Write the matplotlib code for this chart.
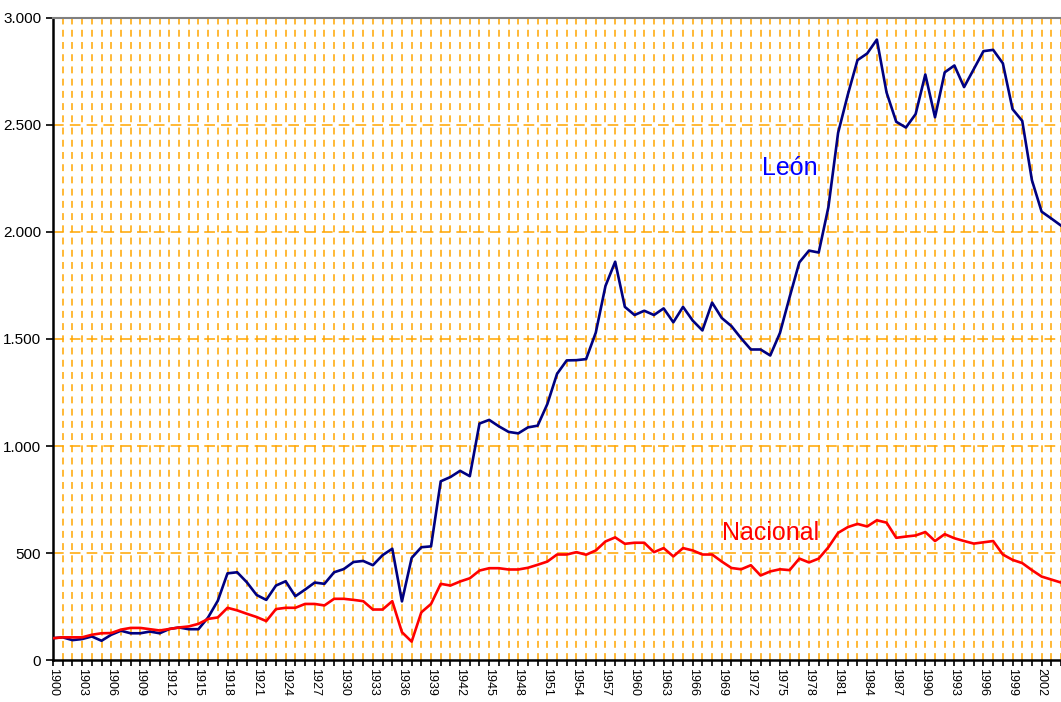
import matplotlib
matplotlib.use("Agg")
import matplotlib.pyplot as plt
from matplotlib.ticker import FuncFormatter

plt.rcParams['font.family'] = ['Liberation Sans', 'DejaVu Sans']

# Años 1900-2004
anios = list(range(1900, 2005))

# Serie León
leon = [102, 106, 93, 98, 110, 90, 118, 137, 125, 125,
        133, 125, 145, 152, 144, 144, 199, 277, 405, 410,
        363, 304, 281, 348, 368, 298, 329, 362, 356, 410,
        425, 458, 463, 443, 490, 520, 274, 477, 527, 531,
        835, 855, 884, 859, 1105, 1122, 1092, 1066, 1059, 1087,
        1095, 1196, 1337, 1400, 1401, 1406, 1530, 1748, 1861, 1650,
        1612, 1632, 1612, 1643, 1578, 1650, 1586, 1540, 1670, 1598,
        1560, 1503, 1451, 1451, 1423, 1528, 1696, 1858, 1913, 1904,
        2116, 2463, 2641, 2803, 2834, 2899, 2652, 2515, 2488, 2551,
        2736, 2536, 2746, 2778, 2677, 2761, 2845, 2851, 2788, 2574,
        2519, 2242, 2095, 2063, 2030]

# Serie Nacional
nacional = [102, 106, 106, 106, 118, 125, 126, 142, 150, 150,
            144, 138, 145, 152, 157, 169, 192, 199, 244, 232,
            216, 201, 182, 238, 244, 244, 262, 262, 255, 286,
            286, 281, 275, 236, 236, 275, 130, 86, 223, 262,
            356, 348, 367, 382, 418, 429, 429, 423, 423, 431,
            445, 460, 493, 493, 504, 492, 512, 554, 573, 543,
            548, 548, 504, 523, 484, 523, 512, 493, 493, 460,
            430, 424, 443, 395, 414, 424, 420, 474, 456, 474,
            527, 594, 621, 636, 624, 653, 642, 571, 577, 582,
            598, 556, 588, 569, 556, 544, 550, 556, 493, 468,
            453, 420, 390, 376, 362]

etiquetas_x = list(range(1900, 2003, 3))
etiquetas_y = [0, 500, 1000, 1500, 2000, 2500, 3000]

fig = plt.figure(figsize=(10.61, 7.02), dpi=100)
ax = fig.add_axes([0.05, 0.0598, 0.95, 0.9146])

naranja = '#FFA500'
ax.set_xlim(1900, 2003.5)
ax.set_ylim(0, 3000)

# rejilla
for a in anios[1:]:
    ax.axvline(a, color=naranja, lw=1.1, dashes=(4.5, 3.5), zorder=1)
for v in etiquetas_y[1:-1]:
    ax.axhline(v, color=naranja, lw=1.1, dashes=(7, 4), zorder=1)

ax.plot(anios, leon, color='#000080', lw=1.9, zorder=3)
ax.plot(anios, nacional, color='#FF0000', lw=1.9, zorder=3)

ax.set_xticks(anios)
ax.set_xticklabels([str(a) if a in etiquetas_x else '' for a in anios],
                   rotation=270, fontsize=9)
ax.set_yticks(etiquetas_y)
ax.yaxis.set_major_formatter(FuncFormatter(lambda v, p: f'{int(v):,}'.replace(',', '.')))
ax.tick_params(axis='y', labelsize=11, length=5, width=1.2, direction='out')
ax.tick_params(axis='x', length=4, width=1.2, direction='out', pad=2)

ax.spines['right'].set_visible(False)
ax.spines['top'].set_color('#808080')
ax.spines['top'].set_linewidth(1.5)
ax.spines['left'].set_linewidth(1.8)
ax.spines['bottom'].set_linewidth(1.8)

# textos de las series
ax.annotate('León', xy=(0, 0), xytext=(790, 702 - 168), xycoords='figure pixels',
            textcoords='figure pixels', color='#0000FF', fontsize=18,
            ha='center', va='center')
ax.annotate('Nacional', xy=(0, 0), xytext=(771, 702 - 533), xycoords='figure pixels',
            textcoords='figure pixels', color='#FF0000', fontsize=18,
            ha='center', va='center')

fig.savefig('out.png', dpi=100)
